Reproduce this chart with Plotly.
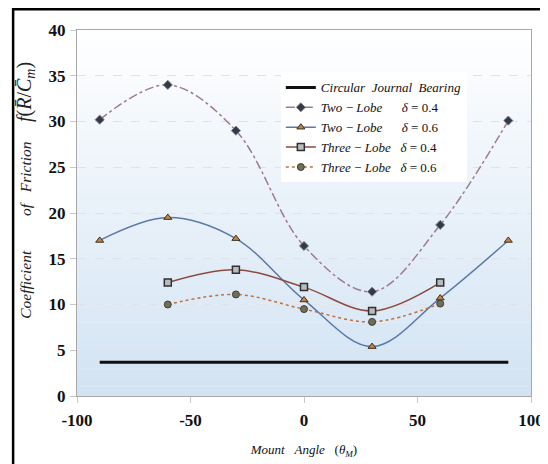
import plotly.graph_objects as go

# ---------------- data ----------------
angles = [-90, -60, -30, 0, 30, 60, 90]
two_lobe_04 = [30.2, 34.0, 29.0, 16.4, 11.4, 18.7, 30.1]
two_lobe_06 = [17.0, 19.5, 17.2, 10.5, 5.4, 10.7, 17.0]
three_angles = [-60, -30, 0, 30, 60]
three_lobe_04 = [12.4, 13.8, 11.9, 9.3, 12.4]
three_lobe_06 = [10.0, 11.1, 9.5, 8.1, 10.1]
circ_angles = [-90, 90]
circular = [3.7, 3.7]

x_ticks = [-100, -50, 0, 50, 100]
y_ticks = [0, 5, 10, 15, 20, 25, 30, 35, 40]

SERIF = "Liberation Serif"
sp = "&nbsp;"
th = "\u2009"

fig = go.Figure()

fig.add_trace(go.Scatter(
    x=circ_angles, y=circular, mode="lines",
    line=dict(color="#111111", width=3),
    name="<i>Circular" + sp * 2 + "Journal" + sp * 2 + "Bearing</i>"))

fig.add_trace(go.Scatter(
    x=angles, y=two_lobe_04, mode="lines+markers", line_shape="spline",
    line=dict(color="#a07a92", width=1.5, dash="dashdot"),
    marker=dict(symbol="diamond", size=7, color="#333a46",
                line=dict(color="#7a8490", width=1)),
    name="<i>Two" + th + "−" + th + "Lobe</i>" + sp * 6 + "<i>δ</i> = 0.4"))

fig.add_trace(go.Scatter(
    x=angles, y=two_lobe_06, mode="lines+markers", line_shape="spline",
    line=dict(color="#5a78a8", width=1.5),
    marker=dict(symbol="triangle-up", size=7, color="#c8843e",
                line=dict(color="#3a3020", width=1)),
    name="<i>Two" + th + "−" + th + "Lobe</i>" + sp * 6 + "<i>δ</i> = 0.6"))

fig.add_trace(go.Scatter(
    x=three_angles, y=three_lobe_04, mode="lines+markers", line_shape="spline",
    line=dict(color="#8c4a3e", width=1.5),
    marker=dict(symbol="square", size=7, color="#b8bcc0",
                line=dict(color="#303030", width=1.5)),
    name="<i>Three" + th + "−" + th + "Lobe</i>" + sp * 3 + "<i>δ</i> = 0.4"))

fig.add_trace(go.Scatter(
    x=three_angles, y=three_lobe_06, mode="lines+markers", line_shape="spline",
    line=dict(color="#c0703e", width=1.5, dash="dot"),
    marker=dict(symbol="circle", size=7, color="#6e6e5a",
                line=dict(color="#404030", width=1)),
    name="<i>Three" + th + "−" + th + "Lobe</i>" + sp * 3 + "<i>δ</i> = 0.6"))

# gradient background of plot area
shapes = []
n = 40
top = (255, 255, 255)
bot = (210, 227, 243)
for i in range(n):
    t = (i + 0.5) / n
    c = tuple(int(round(top[k] + (bot[k] - top[k]) * t)) for k in range(3))
    shapes.append(dict(type="rect", xref="x domain", yref="y domain",
                       x0=0, x1=1, y0=1 - (i + 1) / n, y1=1 - i / n + 0.001,
                       fillcolor="rgb(%d,%d,%d)" % c, line=dict(width=0),
                       layer="below"))
# outer black frame
shapes.append(dict(type="rect", xref="paper", yref="paper",
                   x0=-0.1407, x1=1.2, y0=-0.4, y1=1.057,
                   line=dict(color="black", width=2.5), fillcolor="rgba(0,0,0,0)"))

ytitle = ("<i>Coefficient" + sp * 9 + "of" + sp * 3 + "Friction" + sp * 5 + "</i>"
          + "<span style='font-size:20px'><i>f</i>(<i>R̄</i>/<i>C̄<sub>m</sub></i>)</span>")

fig.update_layout(
    width=548, height=464,
    margin=dict(l=69, r=17, t=22, b=76),
    paper_bgcolor="white", plot_bgcolor="white",
    shapes=shapes,
    showlegend=True,
    legend=dict(x=0.449, y=0.884, xanchor="left", yanchor="top",
                bgcolor="white", borderwidth=0,
                font=dict(family=SERIF, size=13, color="#111111"),
                itemwidth=30, tracegroupgap=0),
    xaxis=dict(range=[-100, 100], tickvals=x_ticks, ticktext=[str(v) for v in x_ticks],
               showgrid=False, zeroline=False, showline=True, linecolor="#a8a8a8",
               linewidth=1, mirror=True, ticks="outside", ticklen=6, tickcolor="#c8c8c8",
               tickfont=dict(family=SERIF, size=17, color="#111111", weight="bold"),
               ticklabelstandoff=3, ticklabeloverflow="allow",
               title=dict(text="<i>Mount" + sp * 3 + "Angle</i>" + sp * 3 + "(<i>θ<sub>M</sub></i>)",
                          font=dict(family=SERIF, size=13, color="#111111"), standoff=15)),
    yaxis=dict(range=[0, 40], tickvals=y_ticks, ticktext=[str(v) for v in y_ticks],
               showgrid=True, gridcolor="#dfe3e8", griddash="dash", gridwidth=1,
               zeroline=False, showline=True, linecolor="#a8a8a8",
               linewidth=1, mirror=True, ticks="outside", ticklen=6, tickcolor="#c8c8c8",
               tickfont=dict(family=SERIF, size=17, color="#111111", weight="bold"),
               ticklabelstandoff=1, ticklabeloverflow="allow"),
    annotations=[dict(
        text=ytitle,
        xref="paper", yref="paper", x=-0.1126, y=0.563, textangle=-90,
        xanchor="center", yanchor="middle",
        showarrow=False, font=dict(family=SERIF, size=15.5, color="#222222"))],
)

fig.write_html("out.html")
